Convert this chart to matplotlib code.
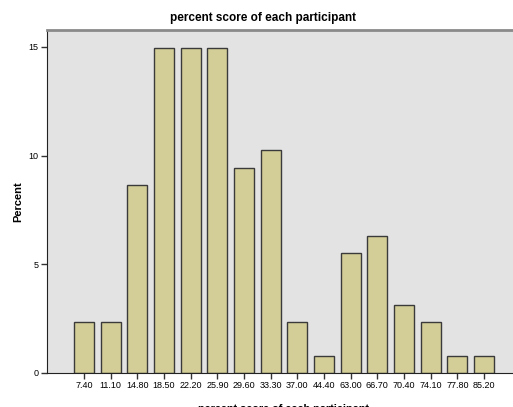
import numpy as np
import matplotlib
matplotlib.use("Agg")
import matplotlib.pyplot as plt

plt.rcParams['font.family'] = ['Liberation Sans', 'DejaVu Sans']

# data (percent of participants per score)
scores = ["7.40", "11.10", "14.80", "18.50", "22.20", "25.90", "29.60", "33.30",
          "37.00", "44.40", "63.00", "66.70", "70.40", "74.10", "77.80", "85.20"]
percent = [2.36, 2.36, 8.66, 14.96, 14.96, 14.96, 9.45, 10.24,
           2.36, 0.79, 5.51, 6.30, 3.15, 2.36, 0.79, 0.79]

W, H = 513, 407
fig = plt.figure(figsize=(W / 100, H / 100), dpi=100)
# axes runs a bit past the right edge, as in the reference
ax = fig.add_axes([47 / W, 34 / H, (521 - 47) / W, (373 - 30) / H])
ax.set_facecolor('#e3e3e3')

x = np.arange(len(scores))
ax.bar(x, percent, width=0.75, color='#d3ce98', edgecolor='#3a3a3a', linewidth=1.0, zorder=2)

ax.set_xlim(-1.39, len(scores) - 1 + 1.39)
ax.set_ylim(0, 15.78)
ax.set_xticks(x)
ax.set_xticklabels(scores, fontsize=6.5)
ax.set_yticks([0, 5, 10, 15])
ax.set_yticklabels(['0', '5', '10', '15'], fontsize=6.5)
ax.tick_params(axis='both', direction='out', length=4, width=1, color='#333333', pad=2)

ax.spines['right'].set_visible(False)
ax.spines['top'].set_color('#8a8a8a')
ax.spines['top'].set_linewidth(2)
ax.spines['left'].set_color('#222222')
ax.spines['bottom'].set_color('#222222')

ax.set_ylabel('Percent', fontsize=8, fontweight='bold', labelpad=4)
ax.set_xlabel('percent score of each participant', fontsize=7.8, fontweight='bold', labelpad=10)
fig.text(263 / W, 1 - 18 / H, 'percent score of each participant', fontsize=8.5,
         fontweight='bold', ha='center', va='center')

fig.savefig('out.png', dpi=100)
